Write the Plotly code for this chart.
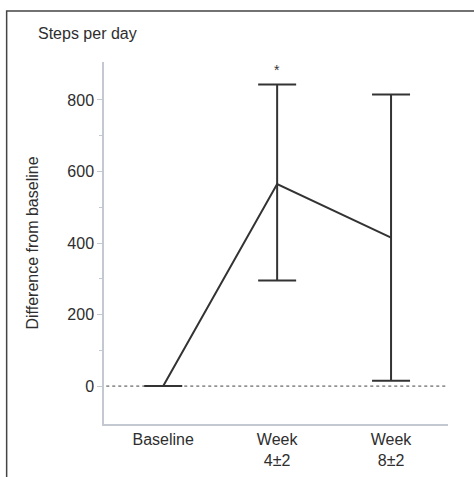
import plotly.graph_objects as go

categories = ["Baseline", "Week<br>4±2", "Week<br>8±2"]
means = [0, 565, 415]
err_plus = [0, 278, 400]
err_minus = [0, 270, 400]
y_ticks = [0, 200, 400, 600, 800]
star_text = "*"
star_y = 885

x_idx = list(range(len(categories)))
ink = "#333333"

fig = go.Figure()
fig.add_trace(go.Scatter(
    x=x_idx, y=means, mode="lines",
    line=dict(color=ink, width=2),
    error_y=dict(type="data", symmetric=False, array=err_plus, arrayminus=err_minus,
                 color=ink, thickness=2, width=19),
    showlegend=False, hoverinfo="skip",
))
fig.add_annotation(x=1, y=star_y, text=star_text, showarrow=False,
                   font=dict(size=14, color=ink, family="Liberation Sans, Arial"))
fig.add_shape(type="line", xref="x", yref="y", x0=-0.5, x1=2.5, y0=0, y1=0,
              line=dict(color="#444444", width=1, dash="dot"), layer="below")
# outer frame
fig.add_shape(type="rect", xref="paper", yref="paper", x0=-0.283, x1=1.3, y0=-0.3, y1=1.141,
              line=dict(color="#444444", width=1.5), fillcolor="rgba(0,0,0,0)")

fig.update_layout(
    width=474, height=477,
    margin=dict(l=104, r=26, t=62, b=53, autoexpand=False),
    paper_bgcolor="white", plot_bgcolor="white",
    font=dict(family="Liberation Sans, Arial", size=16, color="#2e2e2e"),
    title=dict(text="Steps per day", x=38/474, xanchor="left", y=1 - 33/477, yanchor="middle",
               font=dict(size=16, color="#2e2e2e")),
    xaxis=dict(range=[-0.52, 2.5], tickmode="array", tickvals=x_idx, ticktext=categories,
               showline=True, linecolor="#c4c8d0", linewidth=1.5, ticks="", showgrid=False,
               zeroline=False, tickfont=dict(size=16), automargin=False),
    yaxis=dict(range=[-106, 906], tickmode="array", tickvals=y_ticks,
               showline=True, linecolor="#c4c8d0", linewidth=1.5, ticks="outside",
               ticklen=5, tickcolor="#c4c8d0", showgrid=False, zeroline=False, automargin=False,
               minor=dict(tickvals=[100, 300, 500, 700], ticks="outside", ticklen=3, tickcolor="#c4c8d0"),
               title=dict(text="Difference from baseline", standoff=25, font=dict(size=16)),
               tickfont=dict(size=16)),
)
fig.write_html("out.html", config={"displayModeBar": False},
               post_script="document.body.style.margin='0';")
